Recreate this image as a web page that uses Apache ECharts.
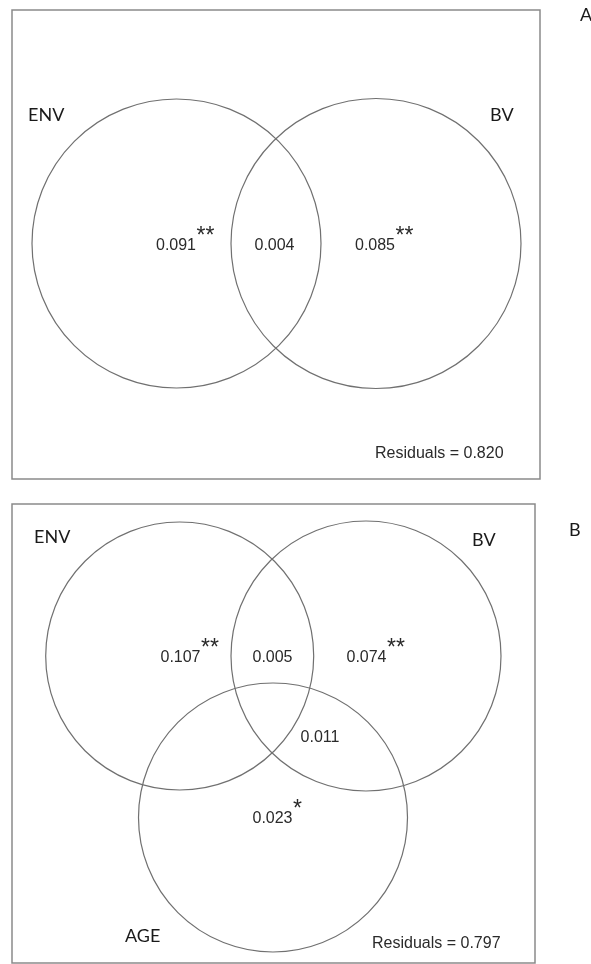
<!DOCTYPE html>
<html><head><meta charset="utf-8">
<script src="https://cdn.jsdelivr.net/npm/echarts@6/dist/echarts.min.js"></script>
<style>html,body{margin:0;padding:0;background:#fff}#c{width:591px;height:964px}</style>
</head><body><div id="c"></div>
<script>
// ---- Panel A data ----
const setNamesA = ['ENV', 'BV'];
const circlesA = [[164.5, 233.5, 144.5], [364, 233.5, 145]];      // venn geometry: cx, cy, r
const regionValuesA = [0.091, 0.004, 0.085];
const regionSigA = ['**', '', '**'];
const residualA = 0.820;
// ---- Panel B data ----
const setNamesB = ['ENV', 'BV', 'AGE'];
const circlesB = [[167.7, 152, 134], [354, 152, 135], [261, 313.5, 134.5]];
const regionValuesB = [0.107, 0.005, 0.074, 0.011, 0.023];
const regionSigB = ['**', '', '**', '', '*'];
const residualB = 0.797;
const panelLetters = ['A', 'B'];

// ---- layout (anchor positions in panel units) ----
const layoutA = { names: [[16, 105], [478, 105]], regions: [[164, 236], [262.5, 236], [363, 236]], residual: [363, 444] };
const layoutB = { names: [[22, 33], [460, 36], [113, 432]], regions: [[168.5, 154], [260.5, 154], [354.5, 154], [308, 234], [260.5, 315]], residual: [360, 440] };

const numFont = '16px "Liberation Sans", Arial, sans-serif';
const starFont = '23px "Liberation Sans", Arial, sans-serif';
const nameFont = '18px Lato, "Open Sans", sans-serif';
const mctx = document.createElement('canvas').getContext('2d');
function textW(s, f) { mctx.font = f; return mctx.measureText(s).width; }

function buildItems(names, layout, values, sig, residual) {
  const items = [];
  names.forEach((n, i) => items.push({ value: layout.names[i], kind: 'name', text: n }));
  values.forEach((v, i) => items.push({ value: layout.regions[i], kind: 'region', text: v.toFixed(3), sig: sig[i] }));
  items.push({ value: layout.residual, kind: 'residual', text: 'Residuals = ' + residual.toFixed(3) });
  return items;
}
const itemsA = buildItems(setNamesA, layoutA, regionValuesA, regionSigA, residualA);
const itemsB = buildItems(setNamesB, layoutB, regionValuesB, regionSigB, residualB);

function circleSeries(idx, circles) {
  return {
    type: 'custom', xAxisIndex: idx, yAxisIndex: idx, silent: true,
    data: circles,
    renderItem: (params, api) => {
      const c = api.coord([api.value(0), api.value(1)]);
      const r = Math.abs(api.size([api.value(2), 0])[0]);
      return { type: 'circle', shape: { cx: c[0], cy: c[1], r: r },
        style: { fill: 'none', stroke: '#707070', lineWidth: 1.2 } };
    }
  };
}
function textSeries(idx, items) {
  return {
    type: 'custom', xAxisIndex: idx, yAxisIndex: idx, silent: true,
    data: items.map(d => d.value),
    renderItem: (params, api) => {
      const it = items[params.dataIndex];
      const p = api.coord([api.value(0), api.value(1)]);
      if (it.kind === 'name') {
        return { type: 'text', x: p[0], y: p[1], style: { text: it.text, font: nameFont, fill: '#1a1a1a', align: 'left', verticalAlign: 'middle' } };
      }
      if (it.kind === 'residual') {
        return { type: 'text', x: p[0], y: p[1], style: { text: it.text, font: numFont, fill: '#2a2a2a', align: 'left', verticalAlign: 'middle' } };
      }
      const children = [{ type: 'text', x: p[0], y: p[1], style: { text: it.text, font: numFont, fill: '#2a2a2a', align: 'center', verticalAlign: 'middle' } }];
      if (it.sig) {
        const w = textW(it.text, numFont);
        children.push({ type: 'text', x: p[0] + w / 2 + 0.5, y: p[1] - 9, style: { text: it.sig, font: starFont, fill: '#2a2a2a', align: 'left', verticalAlign: 'middle' } });
      }
      return { type: 'group', children: children };
    }
  };
}

const chart = echarts.init(document.getElementById('c'), null, { renderer: 'canvas' });
chart.setOption({
  backgroundColor: '#fff',
  animation: false,
  title: [
    { text: panelLetters[0], left: 580, top: 6, padding: 0, textStyle: { fontFamily: 'Lato', fontSize: 18, fontWeight: 'normal', color: '#1a1a1a' } },
    { text: panelLetters[1], left: 569, top: 521, padding: 0, textStyle: { fontFamily: 'Lato', fontSize: 18, fontWeight: 'normal', color: '#1a1a1a' } }
  ],
  grid: [
    { left: 12, top: 10, width: 528, height: 469, show: true, borderColor: '#8a8a8a', borderWidth: 1.5, backgroundColor: 'transparent' },
    { left: 12, top: 504, width: 523, height: 459, show: true, borderColor: '#8a8a8a', borderWidth: 1.5, backgroundColor: 'transparent' }
  ],
  xAxis: [
    { type: 'value', gridIndex: 0, min: 0, max: 528, show: false },
    { type: 'value', gridIndex: 1, min: 0, max: 523, show: false }
  ],
  yAxis: [
    { type: 'value', gridIndex: 0, min: 0, max: 469, inverse: true, show: false },
    { type: 'value', gridIndex: 1, min: 0, max: 459, inverse: true, show: false }
  ],
  series: [
    circleSeries(0, circlesA), textSeries(0, itemsA),
    circleSeries(1, circlesB), textSeries(1, itemsB)
  ]
});
</script></body></html>
